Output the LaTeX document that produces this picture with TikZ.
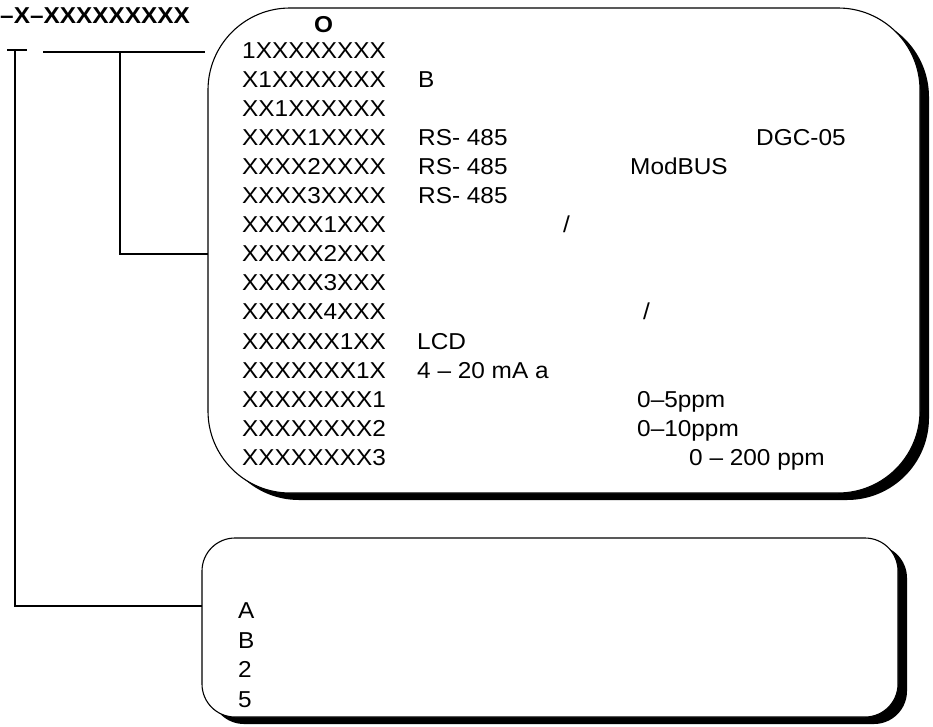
\documentclass[tikz,border=0pt]{standalone}
\usepackage{fontspec}
\setmainfont[FakeStretch=1.06]{Liberation Sans}
\usetikzlibrary{shadows}
\begin{document}
\begin{tikzpicture}[x=1pt,y=-1pt,
  every node/.style={font=\fontsize{23}{27}\selectfont},
  txt/.style={anchor=base west, inner sep=0pt},
  conn/.style={line width=1.2pt},
  bigbox/.style={draw, line width=1.1pt, fill=white, inner sep=0pt,
    drop shadow={shadow xshift=9pt, shadow yshift=-7pt, fill=black, opacity=1}}]
\useasboundingbox (0,0) rectangle (933,726);
% boxes
\node[bigbox, rounded corners=82pt, minimum width=712pt, minimum height=485pt] (box1) at (564,250.5) {};
\node[bigbox, rounded corners=33pt, minimum width=696pt, minimum height=179pt] (box2) at (550,627.5) {};
% title
\node[txt, font=\fontsize{23}{27}\selectfont\bfseries] (title) at (0,23) {–X–XXXXXXXXX};
\node[txt, font=\fontsize{23}{27}\selectfont\bfseries] (hdr) at (314,32) {O};
% connectors
\coordinate (capL) at (7,50);
\coordinate (capR) at (27,50);
\coordinate (tA) at (15,50);
\coordinate (e2) at (202,606);
\coordinate (hL) at (43,52);
\coordinate (hR) at (205,52);
\coordinate (vB) at (120,52);
\coordinate (e1) at (208,254);
\draw[conn] (capL) -- (capR);
\draw[conn] (tA) |- (e2);
\draw[conn] (hL) -- (hR);
\draw[conn] (vB) |- (e1);
% left column
\foreach \t [count=\i] in {1XXXXXXXX,X1XXXXXXX,XX1XXXXXX,XXXX1XXXX,XXXX2XXXX,XXXX3XXXX,XXXXX1XXX,XXXXX2XXX,XXXXX3XXX,XXXXX4XXX,XXXXXX1XX,XXXXXXX1X,XXXXXXXX1,XXXXXXXX2,XXXXXXXX3}
  \node[txt] (c\i) at (242,{58+29.1*(\i-1)}) {\t};
% other texts
\node[txt] (b2) at (418,87.1) {B};
\node[txt] (rs4) at (418,145.3) {RS- 485};
\node[txt] (dgc) at (756,145.3) {DGC-05};
\node[txt] (rs5) at (418,174.4) {RS- 485};
\node[txt] (mod) at (630,174.4) {ModBUS};
\node[txt] (rs6) at (418,203.5) {RS- 485};
\node[txt] (sl7) at (563,232.6) {/};
\node[txt] (sl10) at (643,319.9) {/};
\node[txt] (lcd) at (417,349) {LCD};
\node[txt] (ma) at (417,378.1) {4 – 20 mA a};
\node[txt] (p13) at (637,407.2) {0–5ppm};
\node[txt] (p14) at (637,436.3) {0–10ppm};
\node[txt] (p15) at (689,465.4) {0 – 200 ppm};
% bottom box texts
\node[txt] (ba) at (238,618) {A};
\node[txt] (bb) at (238,648) {B};
\node[txt] (b2n) at (238,677) {2};
\node[txt] (b5) at (238,707) {5};
\end{tikzpicture}
\end{document}
